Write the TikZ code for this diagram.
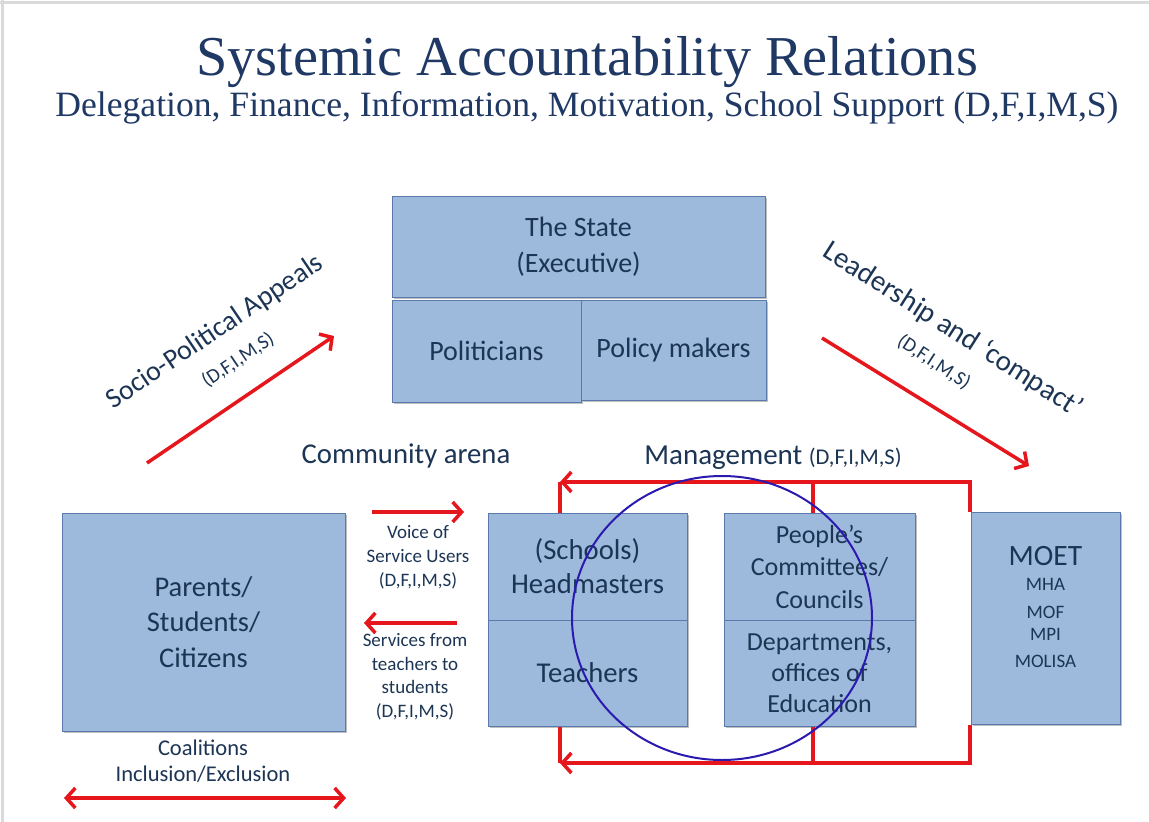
\documentclass[tikz,border=0pt]{standalone}
\usepackage{fontspec}
\setmainfont{Carlito}
\newfontfamily\titlefont{Liberation Serif}
\usetikzlibrary{arrows.meta,shadows,calc}
\definecolor{boxfill}{HTML}{9DB9DB}
\definecolor{boxline}{HTML}{5A7AAC}
\definecolor{navy}{HTML}{1C3554}
\definecolor{titlenavy}{HTML}{1F3864}
\definecolor{arrowred}{HTML}{E5171C}
\definecolor{circblue}{HTML}{2A1AAF}
\definecolor{framegray}{HTML}{DADADA}
\tikzset{
  box/.style={draw=boxline, fill=boxfill, line width=1pt, text=navy, align=center, inner sep=0pt,
    drop shadow={shadow xshift=1.5pt, shadow yshift=-2pt, opacity=0.25, fill=black}},
  lbl/.style={text=navy, align=center, inner sep=0pt},
  redline/.style={draw=arrowred, line width=4pt},
  redarrow/.style={redline, -{Straight Barb[length=9pt,width=20pt,line width=3.5pt]}},
  fs/.style={font=\fontsize{#1}{#1}\selectfont}
}
\begin{document}
\begin{tikzpicture}[x=1pt,y=-1pt]
\useasboundingbox (0,0) rectangle (1149,822);
\fill[white] (0,0) rectangle (1149,822);
\draw[framegray, line width=3pt] (0,2) -- (1149,2);
\draw[framegray, line width=3pt] (2,0) -- (2,822);

% title
\node[anchor=base, inner sep=0pt, text=titlenavy, font=\titlefont\fontsize{56.3}{60}\selectfont] (title) at (587,75) {Systemic Accountability Relations};
\node[anchor=base, inner sep=0pt, text=titlenavy, font=\titlefont\fontsize{35.6}{40}\selectfont] (subtitle) at (587,116) {Delegation, Finance, Information, Motivation, School Support (D,F,I,M,S)};

% boxes
\node[box, minimum width=373pt, minimum height=101pt, font=\fontsize{28}{36}\selectfont] (state) at (578.5,246.5) {The State\\(Executive)};
\node[box, minimum width=189pt, minimum height=102pt, font=\fontsize{28}{30}\selectfont] (politicians) at (486.5,351) {Politicians};
\node[box, minimum width=185pt, minimum height=100pt, font=\fontsize{28}{30}\selectfont] (policy) at (673.5,350) {Policy makers};
\node[box, minimum width=283pt, minimum height=218pt, font=\fontsize{28.5}{35.5}\selectfont] (parents) at (203.5,622) {Parents/\\Students/\\Citizens};
\node[box, minimum width=199pt, minimum height=107pt, font=\fontsize{28.7}{34}\selectfont] (heads) at (587.5,566.5) {(Schools)\\Headmasters};
\node[box, minimum width=199pt, minimum height=106pt, font=\fontsize{28.7}{34}\selectfont] (teachers) at (587.5,673) {Teachers};
\node[box, minimum width=191pt, minimum height=107pt, font=\fontsize{26}{32.5}\selectfont] (people) at (819.5,566.5) {People’s\\Committees/\\Councils};
\node[box, minimum width=191pt, minimum height=106pt, font=\fontsize{26}{31}\selectfont] (depts) at (819.5,673) {Departments,\\offices of\\Education};
\node[box, minimum width=149pt, minimum height=212pt] (moet) at (1045.5,618) {};
\node[lbl, fs=29.5] (moett) at (1045.5,556) {MOET};
\node[lbl, fs=19] (mha) at (1045.5,584) {MHA};
\node[lbl, fs=19] (mof) at (1045.5,612) {MOF};
\node[lbl, fs=19] (mpi) at (1045.5,634) {MPI};
\node[lbl, fs=19] (molisa) at (1045.5,661) {MOLISA};

% labels
\node[lbl, fs=28.7] (community) at (406,456) {Community arena};
\node[lbl, fs=29] (mgmt) at (773,458) {Management \fontsize{22.5}{24}\selectfont(D,F,I,M,S)};
\node[lbl, font=\fontsize{19}{24}\selectfont] (voice) at (418,557) {Voice of\\Service Users\\(D,F,I,M,S)};
\node[lbl, font=\fontsize{19}{23.5}\selectfont] (services) at (415,677) {Services from\\teachers to\\students\\(D,F,I,M,S)};
\node[lbl, font=\fontsize{22.5}{26}\selectfont] (coal) at (203,761) {Coalitions\\Inclusion/Exclusion};
\node[lbl, fs=28, rotate=34] (socio) at (215,332) {Socio-Political Appeals};
\node[lbl, fs=20, rotate=34] (sociod) at (238,360) {(D,F,I,M,S)};
\node[lbl, fs=29, rotate=-32.5] (lead) at (953,330) {Leadership and ‘compact’};
\node[lbl, fs=20, rotate=-33] (leadd) at (934,362) {(D,F,I,M,S)};

% arrow end points
\coordinate (sa1) at (147,463);
\coordinate (sa2) at (334,336);
\coordinate (la1) at (822,338);
\coordinate (la2) at (1029,466);
\coordinate (va1) at (372,512);
\coordinate (va2) at (464,512);
\coordinate (sv1) at (457,623);
\coordinate (sv2) at (364,623);
\coordinate (ca1) at (64,798);
\coordinate (ca2) at (346,798);
\coordinate (mt) at (560,482);
\coordinate (mb) at (560,763);

\draw[redarrow, line width=3.5pt] (sa1) -- (sa2);
\draw[redarrow, line width=3.5pt] (la1) -- (la2);
\draw[redarrow] (va1) -- (va2);
\draw[redarrow] (sv1) -- (sv2);
\draw[redline, {Straight Barb[length=9pt,width=20pt,line width=3.5pt]}-{Straight Barb[length=9pt,width=20pt,line width=3.5pt]}] (ca1) -- (ca2);

% management loops
\draw[redarrow] ([xshift=-1pt]moet.north west) |- (mt);
\draw[redline] (mt) -- (mt |- heads.north);
\draw[redline] ([xshift=-6.5pt]people.north) -- ([xshift=-6.5pt]people.north |- mt);
\draw[redarrow] ([xshift=-1pt]moet.south west) |- (mb);
\draw[redline] (mb) -- (mb |- teachers.south);
\draw[redline] ([xshift=-6.5pt]depts.south) -- ([xshift=-6.5pt]depts.south |- mb);

% circle
\draw[circblue, line width=2pt] (722,618) ellipse [x radius=150, y radius=142];
\end{tikzpicture}
\end{document}
